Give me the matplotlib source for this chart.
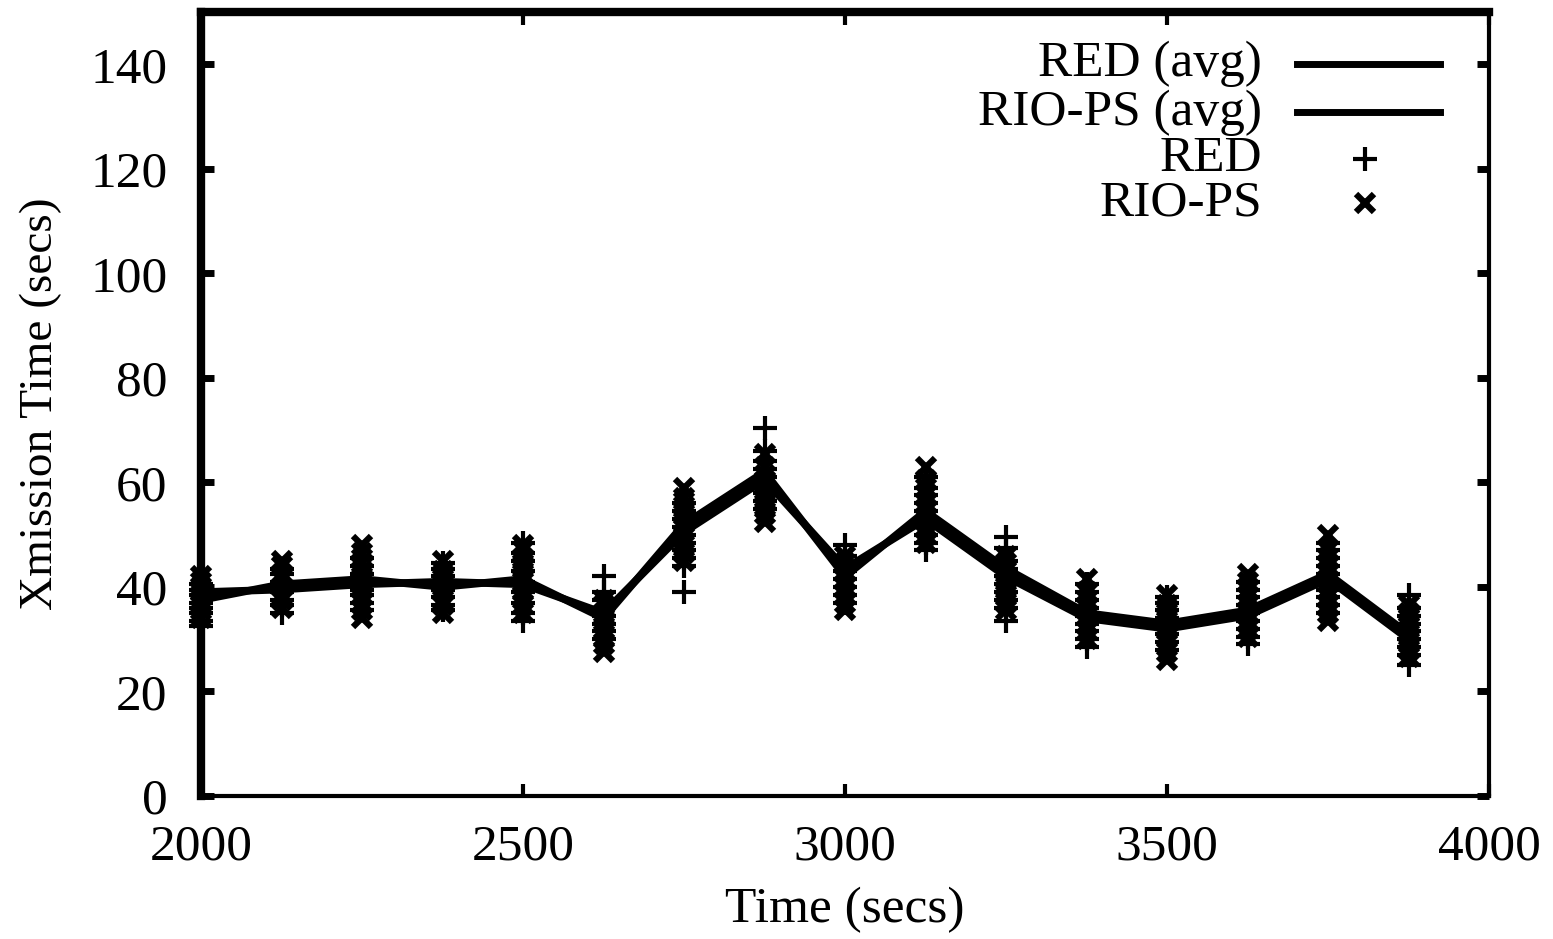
import numpy as np
import matplotlib
matplotlib.use("Agg")
import matplotlib.pyplot as plt
from matplotlib.lines import Line2D

plt.rcParams['font.family'] = ['Liberation Serif', 'DejaVu Serif']

times = [2000, 2125, 2250, 2375, 2500, 2625, 2750, 2875,
         3000, 3125, 3250, 3375, 3500, 3625, 3750, 3875]

red_avg = [37.5, 40.5, 41.5, 40.0, 41.5, 34.0, 52.0, 62.0,
           42.0, 54.5, 43.5, 35.0, 33.0, 35.5, 42.5, 31.0]
rio_avg = [39.0, 39.5, 40.5, 41.0, 40.5, 35.0, 50.5, 60.5,
           43.5, 53.0, 42.0, 34.0, 32.0, 34.5, 41.5, 30.0]

red_samples = [
    [32.5, 33.5, 35, 36, 37, 38.5, 39.5, 40.5],
    [35, 36.5, 37.5, 39, 40, 41, 42.5, 43.5],
    [35.5, 37, 38.5, 39.5, 41, 42.5, 44, 45.5],
    [35.5, 36.5, 38, 39.5, 41, 42, 43.5, 44.5],
    [33.5, 35, 37, 39, 41, 43, 45, 46.5, 48.5],
    [30, 31.5, 33, 34.5, 36, 37.5, 39, 42],
    [39, 44, 45.5, 47, 48.5, 50, 51.5, 53, 54.5, 56],
    [55, 56.5, 58, 59.5, 61, 62.5, 64, 66, 70.5],
    [37, 38.5, 40, 41.5, 43, 44.5, 46, 48],
    [47, 48.5, 50, 51.5, 53, 54.5, 56, 57.5, 59, 61],
    [33.5, 36, 37.5, 39, 40.5, 42, 43.5, 45, 47.5, 49.5],
    [28.5, 30, 31.5, 33, 34.5, 36, 37.5, 39, 40.5],
    [28, 29.5, 31, 32.5, 34, 35.5, 37, 38],
    [29, 30.5, 32, 33.5, 35, 36.5, 38, 39.5, 41],
    [35, 36.5, 38, 39.5, 41, 42.5, 44, 45.5, 47, 48.5],
    [25, 27, 28.5, 30, 31.5, 33, 34.5, 36, 38.5],
]
rio_samples = [
    [34, 35.5, 36.5, 38, 39, 40, 41, 42],
    [36, 37.5, 38.5, 40, 41.5, 42.5, 44, 45],
    [34, 35.5, 37, 38.5, 40, 41.5, 43, 44.5, 46.5, 48],
    [35, 36.5, 37.5, 39, 40.5, 41.5, 43, 45],
    [35, 36.5, 38, 39.5, 41, 42.5, 44, 45.5, 47, 48],
    [27.5, 29, 30.5, 32, 33.5, 35, 36.5, 37.5],
    [45, 46.5, 48, 49.5, 51, 52.5, 54, 55.5, 57, 59],
    [52.5, 54, 55.5, 57, 58.5, 60, 61.5, 63, 65.5],
    [35.5, 37, 38.5, 40, 41.5, 43, 44.5, 46],
    [48.5, 50, 51.5, 53, 54.5, 56, 57.5, 59, 60.5, 63],
    [35.5, 37, 38.5, 40, 41.5, 43, 44.5, 46],
    [30, 31.5, 33, 34.5, 36, 37.5, 39, 41.5],
    [26, 27.5, 29, 30.5, 32, 33.5, 35, 36.5, 38.5],
    [30.5, 32, 33.5, 35, 36.5, 38, 39.5, 41, 42.5],
    [33.5, 35, 36.5, 38, 39.5, 41, 42.5, 44, 45.5, 47, 50],
    [26.5, 28, 29.5, 31, 32.5, 34, 35, 36.5],
]

labels = ["RED (avg)", "RIO-PS (avg)", "RED", "RIO-PS"]

FS = 37
fig = plt.figure(figsize=(15.53, 9.39), dpi=100)
ax = fig.add_axes([201/1553, 1-796/939, (1489-201)/1553, (796-12)/939])

ax.plot(times, red_avg, color='black', lw=5.5, solid_joinstyle='miter', zorder=3)
ax.plot(times, rio_avg, color='black', lw=5.5, solid_joinstyle='miter', zorder=3)

rx = np.concatenate([[t]*len(v) for t, v in zip(times, red_samples)])
ry = np.concatenate(red_samples)
ox = np.concatenate([[t]*len(v) for t, v in zip(times, rio_samples)])
oy = np.concatenate(rio_samples)
ax.plot(rx, ry, ls='none', marker='+', ms=17, mew=3, color='black', clip_on=False, zorder=4)
ax.plot(ox, oy, ls='none', marker='x', ms=13, mew=4.5, color='black', clip_on=False, zorder=4)

ax.set_xlim(2000, 4000)
ax.set_ylim(0, 150)
ax.set_xticks([2000, 2500, 3000, 3500, 4000])
ax.set_yticks(range(0, 141, 20))

ax.tick_params(axis='both', direction='in', labelsize=FS, top=True, right=True)
ax.tick_params(axis='y', length=9, width=5, pad=24)
ax.tick_params(axis='x', length=9, width=3, pad=20)

ax.spines['left'].set_linewidth(6)
ax.spines['top'].set_linewidth(6)
ax.spines['right'].set_linewidth(3)
ax.spines['bottom'].set_linewidth(3)

ax.set_xlabel("Time (secs)", fontsize=FS)
ax.set_ylabel("Xmission Time (secs)", fontsize=34)
ax.xaxis.set_label_coords(0.5, -0.115)
ax.yaxis.set_label_coords(-0.108, 0.5)

# gnuplot-style key: right-justified text, sample on the right
rows = [0.934, 0.872, 0.813, 0.756]
tx = 0.824
for i, (lab, yy) in enumerate(zip(labels, rows)):
    ax.text(tx, yy, lab, transform=ax.transAxes, ha='right', va='center', fontsize=FS)
    if i < 2:
        ax.add_line(Line2D([0.851, 0.962], [yy, yy], transform=ax.transAxes,
                           color='black', lw=5))
    elif i == 2:
        ax.add_line(Line2D([0.904], [yy], transform=ax.transAxes, ls='none',
                           marker='+', ms=17, mew=3, color='black'))
    else:
        ax.add_line(Line2D([0.904], [yy], transform=ax.transAxes, ls='none',
                           marker='x', ms=13, mew=4.5, color='black'))

fig.savefig("out.png", dpi=100)
